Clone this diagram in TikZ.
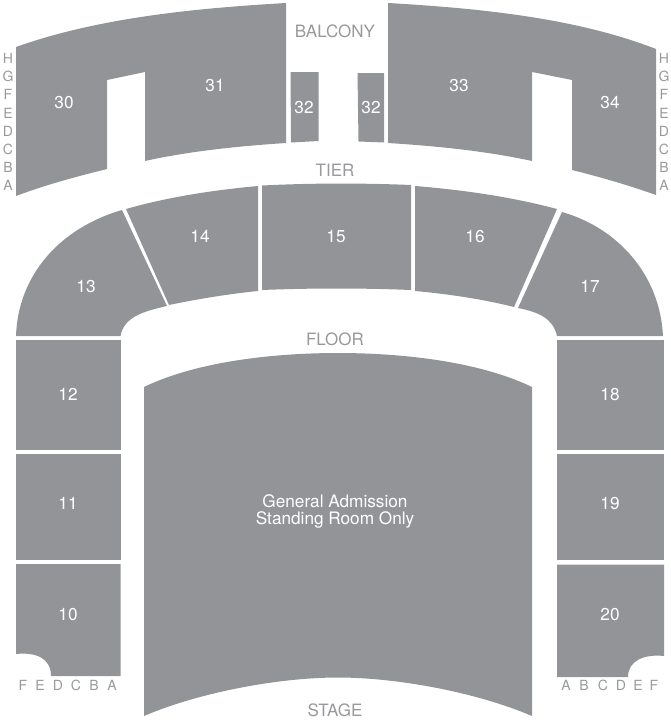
\documentclass[tikz,border=0pt]{standalone}
\usepackage{fontspec}
\setmainfont{TeX Gyre Heros}
\usepackage{xcolor}
\definecolor{seatgray}{HTML}{929497}
\definecolor{labelgray}{HTML}{98999C}
\tikzset{
  block/.style={fill=seatgray,draw=none},
  seclabel/.style={text=white,font=\fontsize{17.2}{16.5}\selectfont,inner sep=0pt,yshift=-0.8pt,align=center},
  arealabel/.style={text=labelgray,font=\fontsize{17}{18}\selectfont,inner sep=0pt,yshift=-0.8pt},
  rowlabel/.style={text=labelgray,font=\fontsize{14}{15}\selectfont,inner sep=0pt},
}
\begin{document}
\begin{tikzpicture}[x=1pt,y=-1pt]
    \useasboundingbox (0,0) rectangle (671,720);
    % balcony
    \fill[block] (16,47) .. controls (100,17) and (200,8) .. (286,3) -- (286,143)
        .. controls (240,146) and (190,151) .. (145,161) -- (145,72) -- (107,80) -- (107,169)
        .. controls (75,177) and (45,185) .. (16,196) -- cycle;
    \fill[block] (290.5,72) -- (318.5,72) -- (318.5,141) -- (291,142.5) -- cycle;
    \fill[block] (357.5,73) -- (384,73) -- (384,142.5) -- (358.5,141.5) -- cycle;
    \fill[block] (388,3) .. controls (474,8) and (574,17) .. (656,49) -- (656,195)
        .. controls (628,185) and (600,177) .. (572,170) -- (572,80) -- (532,72) -- (532,161)
        .. controls (486,151) and (436,146) .. (388,143) -- cycle;
    % tier
    \fill[block] (122,210) .. controls (60,228) and (18,275) .. (16,336) -- (120.5,336)
        .. controls (124,318) and (140,312) .. (167,306) -- cycle;
    \fill[block] (126,209) .. controls (168,197) and (214,190) .. (258,186) -- (258,291)
        .. controls (228,294) and (198,299) .. (169,305) -- cycle;
    \fill[block] (262,185.5) .. controls (312,183) and (362,183) .. (411,185) -- (411,290)
        .. controls (362,288) and (312,288) .. (262,290) -- cycle;
    \fill[block] (415,186) .. controls (464,190) and (512,197) .. (557,209) -- (514,307)
        .. controls (482,299) and (448,294) .. (415,291) -- cycle;
    \fill[block] (562,212) .. controls (618,228) and (660,275) .. (663,336) -- (557,336)
        .. controls (553,318) and (538,312) .. (518,308) -- cycle;
    % floor sides
    \fill[block] (16,340) rectangle (120.5,450);
    \fill[block] (16,454) rectangle (120.5,560);
    \fill[block] (16,654) .. controls (36,652) and (51,658) .. (51,676) -- (120.5,676) -- (120.5,564) -- (16,564) -- cycle;
    \fill[block] (557,340) rectangle (664,450);
    \fill[block] (557,454) rectangle (664,560);
    \fill[block] (628,677) .. controls (628,660) and (645,654) .. (664,656) -- (664,564.5) -- (557,564.5) -- (557,677) -- cycle;
    % general admission
    \fill[block] (144,387) .. controls (200,360) and (280,353) .. (338,353)
        .. controls (396,353) and (476,360) .. (532,387) -- (532,716)
        .. controls (476,692) and (396,677.5) .. (338,677.5)
        .. controls (280,677.5) and (200,692) .. (144,716) -- cycle;
    % section numbers
    \node[seclabel] (s30) at (64,102) {30};
    \node[seclabel] (s31) at (215,85) {31};
    \node[seclabel] (s32a) at (304,107) {32};
    \node[seclabel] (s32b) at (371,107) {32};
    \node[seclabel] (s33) at (459,85) {33};
    \node[seclabel] (s34) at (610,102) {34};
    \node[seclabel] (s13) at (86,286) {13};
    \node[seclabel] (s14) at (200,236) {14};
    \node[seclabel] (s15) at (336,236) {15};
    \node[seclabel] (s16) at (475,236) {16};
    \node[seclabel] (s17) at (590,286) {17};
    \node[seclabel] (s12) at (68,394) {12};
    \node[seclabel] (s11) at (68,503) {11};
    \node[seclabel] (s10) at (68,614) {10};
    \node[seclabel] (s18) at (610,394) {18};
    \node[seclabel] (s19) at (610,503) {19};
    \node[seclabel] (s20) at (610,614) {20};
    \node[seclabel] (ga) at (335,510.5) {General Admission\\Standing Room Only};
    % areas
    \node[arealabel] (balcony) at (335,31) {BALCONY};
    \node[arealabel] (tier) at (335,170) {TIER};
    \node[arealabel] (floor) at (335,338) {FLOOR};
    \node[arealabel] (stage) at (335,709.8) {STAGE};
    % rows
    \foreach \row/\ypos in {H/58,G/76.5,F/94.5,E/113,D/131,C/149,B/167.5,A/185.5} {
        \node[rowlabel] (l\row) at (8,\ypos) {\row};
        \node[rowlabel] (r\row) at (664,\ypos) {\row};
    }
    \foreach \row/\xpos in {F/23,E/40,D/58,C/76,B/94,A/112} {
        \node[rowlabel] (bl\row) at (\xpos,685) {\row};
    }
    \foreach \row/\xpos in {A/566,B/584,C/603,D/621,E/638,F/654} {
        \node[rowlabel] (br\row) at (\xpos,685) {\row};
    }
\end{tikzpicture}
\end{document}
